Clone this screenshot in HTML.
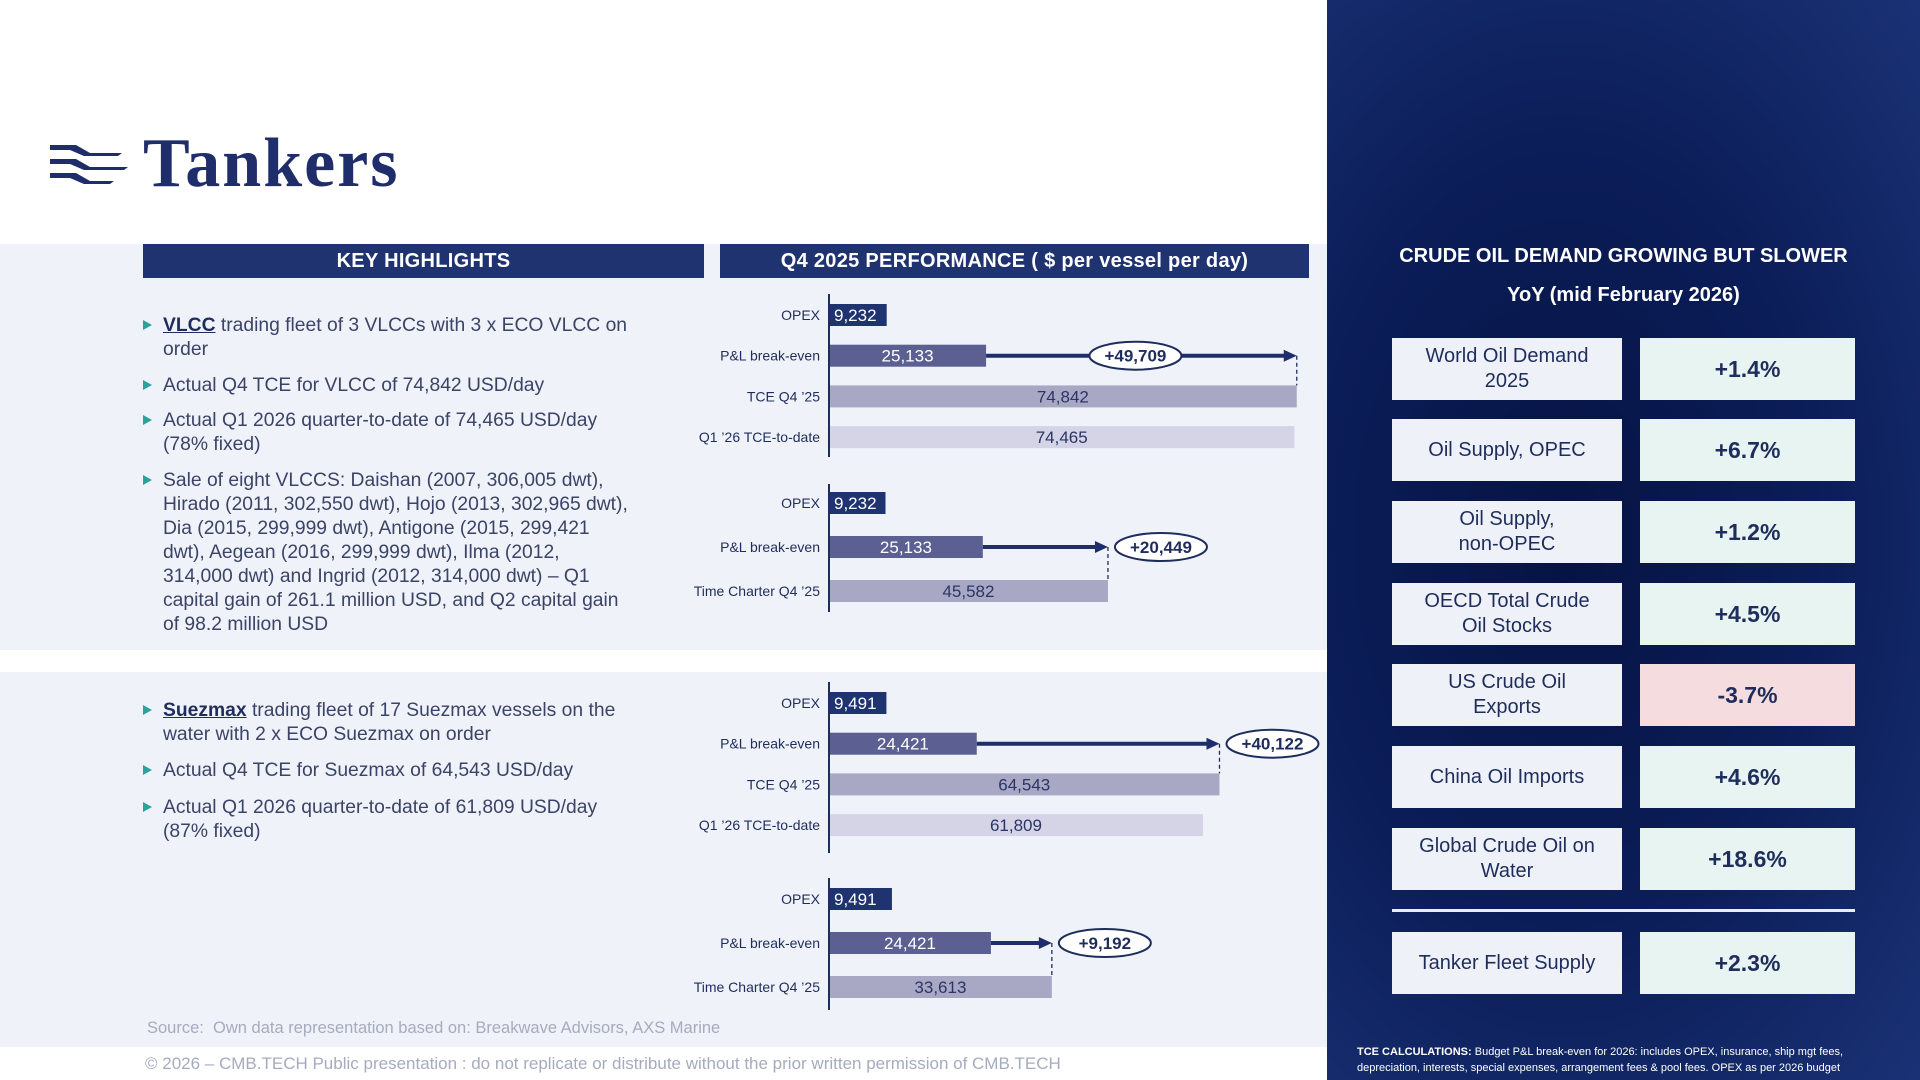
<!DOCTYPE html>
<html><head><meta charset="utf-8"><style>
*{margin:0;padding:0;box-sizing:border-box}
body{width:1920px;height:1080px;position:relative;overflow:hidden;background:#fff;font-family:"Liberation Sans",sans-serif}
.abs{position:absolute}
.band{position:absolute;left:0;width:1327px;background:#eff2f9}
.hdr{position:absolute;top:244px;height:34px;background:#1f3370;color:#fff;font-weight:bold;font-size:20px;text-align:center;line-height:34px;letter-spacing:.3px}
.bl{position:absolute;left:163px;font-size:19.3px;color:#3b4466;line-height:24px;white-space:nowrap}
.bl:before{content:"";position:absolute;left:-20px;top:6px;border-left:9px solid #2aa39a;border-top:5px solid transparent;border-bottom:5px solid transparent}
.bl u{color:#1f2d5c;font-weight:bold}
#rp{position:absolute;left:1327px;top:0;width:593px;height:1080px;background:radial-gradient(ellipse at 40% 50%,#061343 0%,#0b1d58 50%,#1a3275 100%)}
.rt{position:absolute;left:0;width:593px;text-align:center;color:#fff;font-weight:bold;font-size:20px}
.kb{position:absolute;height:62px;display:flex;align-items:center;justify-content:center;text-align:center;color:#1f2d5c}
.kl{left:65px;width:230px;background:#eef1f8;font-size:20px;line-height:25px}
.kr{left:313px;width:215px;background:#e7f4f1;font-size:23px;font-weight:bold}
</style></head><body>
<div class="band" style="top:244px;height:406px"></div>
<div class="band" style="top:672px;height:375px"></div>

<svg class="abs" style="left:50px;top:143px" width="78" height="45">
<path d="M0 2h26l14 8h32l-4 3H34L20 7H0z" fill="#1f2d6b"/>
<path d="M0 16h26l14 8h38l-4 3H34L20 21H0z" fill="#1f2d6b"/>
<path d="M0 30h26l14 8h24l-4 3H34L20 35H0z" fill="#1f2d6b"/>
</svg>
<div class="abs" style="left:143px;top:124px;font-family:'Liberation Serif',serif;font-weight:bold;font-size:70px;letter-spacing:2px;color:#1f2d6b">Tankers</div>

<div class="hdr" style="left:143px;width:561px">KEY HIGHLIGHTS</div>
<div class="hdr" style="left:720px;width:589px">Q4 2025 PERFORMANCE ( $ per vessel per day)</div>

<div class="bl" style="top:314px"><u>VLCC</u> trading fleet of 3 VLCCs with 3 x ECO VLCC on<br>order</div>
<div class="bl" style="top:374px">Actual Q4 TCE for VLCC of 74,842 USD/day</div>
<div class="bl" style="top:409px">Actual Q1 2026 quarter-to-date of 74,465 USD/day<br>(78% fixed)</div>
<div class="bl" style="top:469px">Sale of eight VLCCS: Daishan (2007, 306,005 dwt),<br>Hirado (2011, 302,550 dwt), Hojo (2013, 302,965 dwt),<br>Dia (2015, 299,999 dwt), Antigone (2015, 299,421<br>dwt), Aegean (2016, 299,999 dwt), Ilma (2012,<br>314,000 dwt) and Ingrid (2012, 314,000 dwt) – Q1<br>capital gain of 261.1 million USD, and Q2 capital gain<br>of 98.2 million USD</div>

<div class="bl" style="top:699px"><u>Suezmax</u> trading fleet of 17 Suezmax vessels on the<br>water with 2 x ECO Suezmax on order</div>
<div class="bl" style="top:759px">Actual Q4 TCE for Suezmax of 64,543 USD/day</div>
<div class="bl" style="top:796px">Actual Q1 2026 quarter-to-date of 61,809 USD/day<br>(87% fixed)</div>

<svg id="charts" class="abs" style="left:0;top:0" width="1327" height="1080"></svg>

<div class="abs" style="left:147px;top:1019px;font-size:16.5px;color:#a6abbe">Source:&nbsp; Own data representation based on: Breakwave Advisors, AXS Marine</div>
<div class="abs" style="left:145px;top:1054px;font-size:17px;color:#a6abbe">© 2026 – CMB.TECH Public presentation : do not replicate or distribute without the prior written permission of CMB.TECH</div>

<div id="rp">
<div class="rt" style="top:245px">CRUDE OIL DEMAND GROWING BUT SLOWER</div>
<div class="rt" style="top:284px">YoY (mid February 2026)</div>
<div class="kb kl" style="top:338px">World Oil Demand<br>2025</div><div class="kb kr" style="top:338px">+1.4%</div>
<div class="kb kl" style="top:419px">Oil Supply, OPEC</div><div class="kb kr" style="top:419px">+6.7%</div>
<div class="kb kl" style="top:501px">Oil Supply,<br>non-OPEC</div><div class="kb kr" style="top:501px">+1.2%</div>
<div class="kb kl" style="top:583px">OECD Total Crude<br>Oil Stocks</div><div class="kb kr" style="top:583px">+4.5%</div>
<div class="kb kl" style="top:664px">US Crude Oil<br>Exports</div><div class="kb kr" style="top:664px;background:#f5dcdf">-3.7%</div>
<div class="kb kl" style="top:746px">China Oil Imports</div><div class="kb kr" style="top:746px">+4.6%</div>
<div class="kb kl" style="top:828px">Global Crude Oil on<br>Water</div><div class="kb kr" style="top:828px">+18.6%</div>
<div class="abs" style="left:65px;top:909px;width:463px;height:3px;background:#e8ecf5"></div>
<div class="kb kl" style="top:932px">Tanker Fleet Supply</div><div class="kb kr" style="top:932px">+2.3%</div>
<div class="abs" style="left:30px;top:1044px;font-size:11px;line-height:16px;color:#fff;white-space:nowrap"><b>TCE CALCULATIONS:</b> Budget P&amp;L break-even for 2026: includes OPEX, insurance, ship mgt fees,<br>depreciation, interests, special expenses, arrangement fees &amp; pool fees. OPEX as per 2026 budget</div>
</div>

<script>
const vlccSpotLabels=["OPEX","P&L break-even","TCE Q4 ’25","Q1 ’26 TCE-to-date"];
const vlccSpotValues=[9232,25133,74842,74465];
const vlccTcLabels=["OPEX","P&L break-even","Time Charter Q4 ’25"];
const vlccTcValues=[9232,25133,45582];
const suezSpotLabels=["OPEX","P&L break-even","TCE Q4 ’25","Q1 ’26 TCE-to-date"];
const suezSpotValues=[9491,24421,64543,61809];
const suezTcLabels=["OPEX","P&L break-even","Time Charter Q4 ’25"];
const suezTcValues=[9491,24421,33613];

const NS="http://www.w3.org/2000/svg";
const svg=document.getElementById('charts');
const colors=["#1f3370","#5b5f92","#a9a8c4","#d4d4e6"];
const txtCol=["#fff","#fff","#2a3566","#2a3566"];
function mk(t,a){const e=document.createElementNS(NS,t);for(const k in a)e.setAttribute(k,a[k]);svg.appendChild(e);return e;}
function fmt(v){return v.toLocaleString('en-US');}
function chart(id,labels,values,x0,pxPerUnit,yTop,yAxisTop,yAxisBot,midLabel){
  const xs=v=>x0+v*pxPerUnit;
  const ys=i=>yTop+i*(labels.length===4?40.7:44);
  const ax=mk('line',{x1:x0,x2:x0,y1:yAxisTop,y2:yAxisBot,stroke:'#1f2d5c','stroke-width':2});
  
  
  values.forEach((v,i)=>{
    const y=ys(i);
    const r=mk('rect',{x:x0+1,y:y-11,width:xs(v)-x0-1,height:22,fill:colors[i]});
    
    
    const l=mk('text',{x:x0-9,y:y+5,'text-anchor':'end','font-size':14,fill:'#1f2d5c','font-family':'Liberation Sans, sans-serif'});
    l.textContent=labels[i];
    
    
    const vx=i===0?x0+5:(x0+xs(v))/2;
    const t=mk('text',{x:vx,y:y+6,'text-anchor':i===0?'start':'middle','font-size':17,fill:txtCol[i],'font-family':'Liberation Sans, sans-serif'});
    t.textContent=fmt(v);
    
    
  });
  const be=values[1],tce=values[2];
  const ya=ys(1),x1=xs(be),x2=xs(tce);
  const ln=mk('line',{x1:x1,x2:x2-10,y1:ya,y2:ya,stroke:'#1f2d6b','stroke-width':4});
  
  
  mk('polygon',{points:`${x2},${ya} ${x2-13},${ya-6} ${x2-13},${ya+6}`,fill:'#1f2d6b'});
  mk('line',{x1:x2,x2:x2,y1:ya,y2:ys(2)-11,stroke:'#1f2d5c','stroke-width':1.3,'stroke-dasharray':'4,3'});
  const cx=midLabel?(x1+x2)/2-6:x2+53;
  const el=mk('ellipse',{cx:cx,cy:ya,rx:46,ry:14,fill:'#fff',stroke:'#1f2d5c','stroke-width':2});
  
  
  const gt=mk('text',{x:cx,y:ya+6,'text-anchor':'middle','font-size':17,'font-weight':'bold',fill:'#1f2d5c','font-family':'Liberation Sans, sans-serif'});
  gt.textContent='+'+fmt(tce-be);
  
  
}
chart('vlcc-spot',vlccSpotLabels,vlccSpotValues,829,0.00625,315,294,457,true);
chart('vlcc-tc',vlccTcLabels,vlccTcValues,829,0.00612,503,484,612,false);
chart('suez-spot',suezSpotLabels,suezSpotValues,829,0.00605,703,682,853,false);
chart('suez-tc',suezTcLabels,suezTcValues,829,0.00663,899,878,1010,false);
</script>
</body></html>
